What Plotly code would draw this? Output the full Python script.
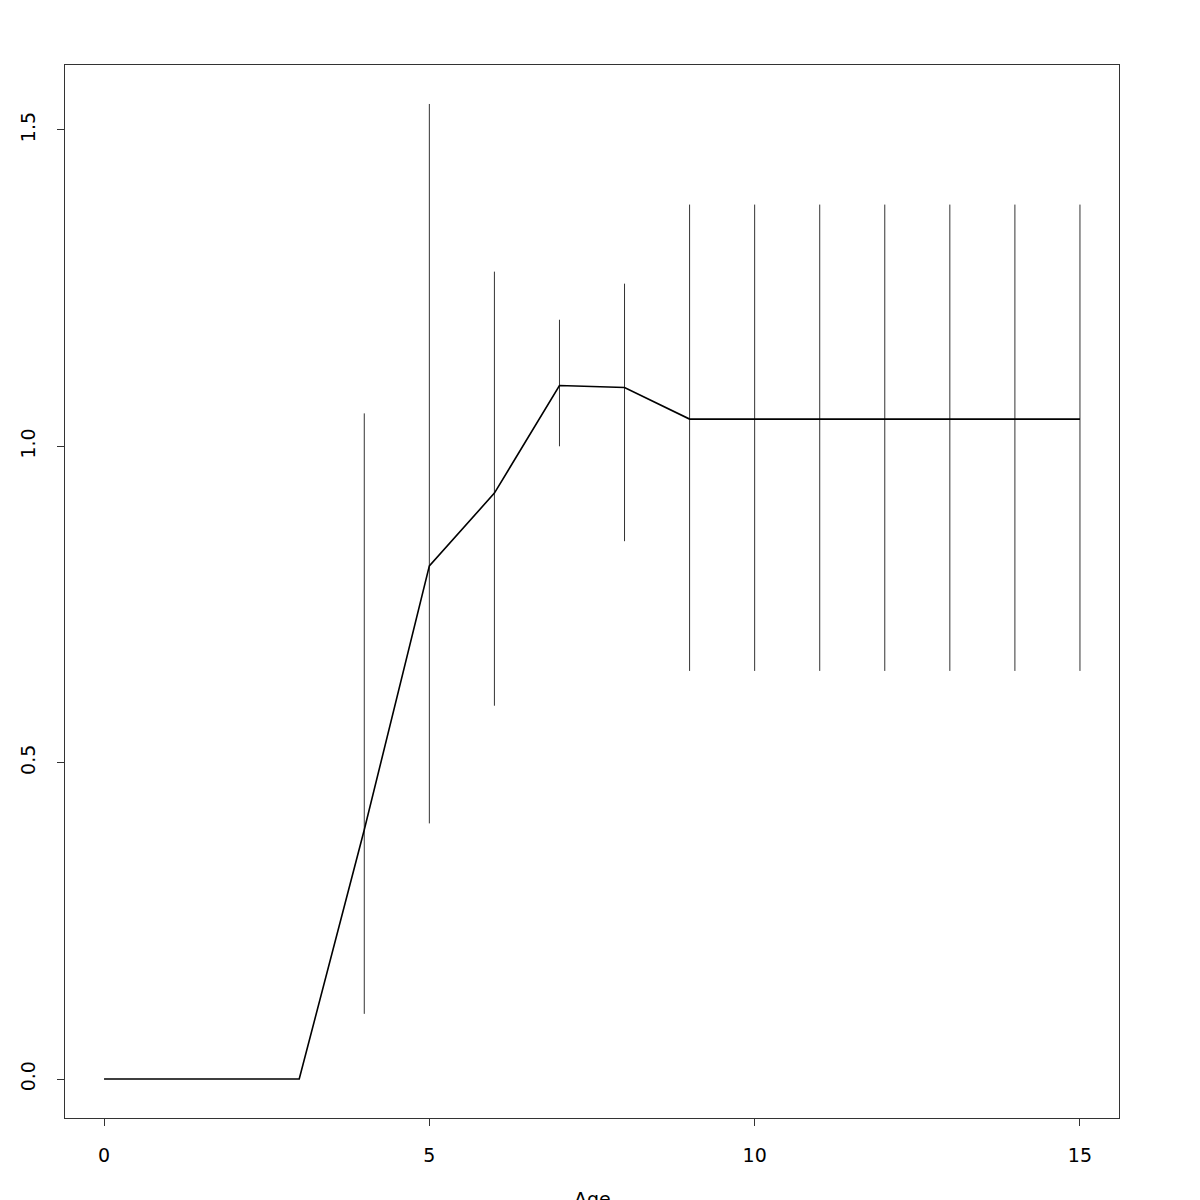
import plotly.graph_objects as go

ages = list(range(0, 16))
values = [0, 0, 0, 0, 0.394, 0.811, 0.926, 1.096, 1.093, 1.043, 1.043, 1.043, 1.043, 1.043, 1.043, 1.043]
err_ages = [4, 5, 6, 7, 8, 9, 10, 11, 12, 13, 14, 15]
err_low = [0.103, 0.404, 0.590, 1.000, 0.850, 0.645, 0.645, 0.645, 0.645, 0.645, 0.645, 0.645]
err_high = [1.052, 1.541, 1.276, 1.200, 1.257, 1.382, 1.382, 1.382, 1.382, 1.382, 1.382, 1.382]
x_ticks = [0, 5, 10, 15]
y_ticks = [0.0, 0.5, 1.0, 1.5]
y_tick_labels = ["0.0", "0.5", "1.0", "1.5"]

seg_x, seg_y = [], []
for a, lo, hi in zip(err_ages, err_low, err_high):
    seg_x += [a, a, None]
    seg_y += [lo, hi, None]

fig = go.Figure()
fig.add_trace(go.Scatter(x=seg_x, y=seg_y, mode="lines",
                         line=dict(color="#333333", width=1), showlegend=False, hoverinfo="skip"))
fig.add_trace(go.Scatter(x=ages, y=values, mode="lines",
                         line=dict(color="black", width=1.6), showlegend=False))

font = dict(family="DejaVu Sans", size=19, color="black")
fig.update_layout(
    width=1200, height=1200,
    margin=dict(l=57, r=89, t=57, b=90, autoexpand=False),
    plot_bgcolor="white", paper_bgcolor="white",
    font=font,
    xaxis=dict(range=[-0.6, 15.6], tickvals=x_ticks, ticks="outside", ticklen=7,
               tickcolor="#333", showgrid=False, zeroline=False, showline=True,
               linecolor="#333", linewidth=1, mirror=True, ticklabelstandoff=13,
               automargin=False),
    yaxis=dict(range=[-0.0616, 1.6026], tickvals=y_ticks, ticktext=y_tick_labels,
               ticks="outside", ticklen=7, tickcolor="#333", tickangle=-90,
               showgrid=False, zeroline=False, showline=True, linecolor="#333",
               linewidth=1, mirror=True, ticklabelstandoff=14, automargin=False),
    annotations=[dict(text="Age", xref="paper", yref="paper", x=0.5, y=-0.0650,
                      xanchor="center", yanchor="top", showarrow=False, font=font)],
)
fig.write_html("out.html")
